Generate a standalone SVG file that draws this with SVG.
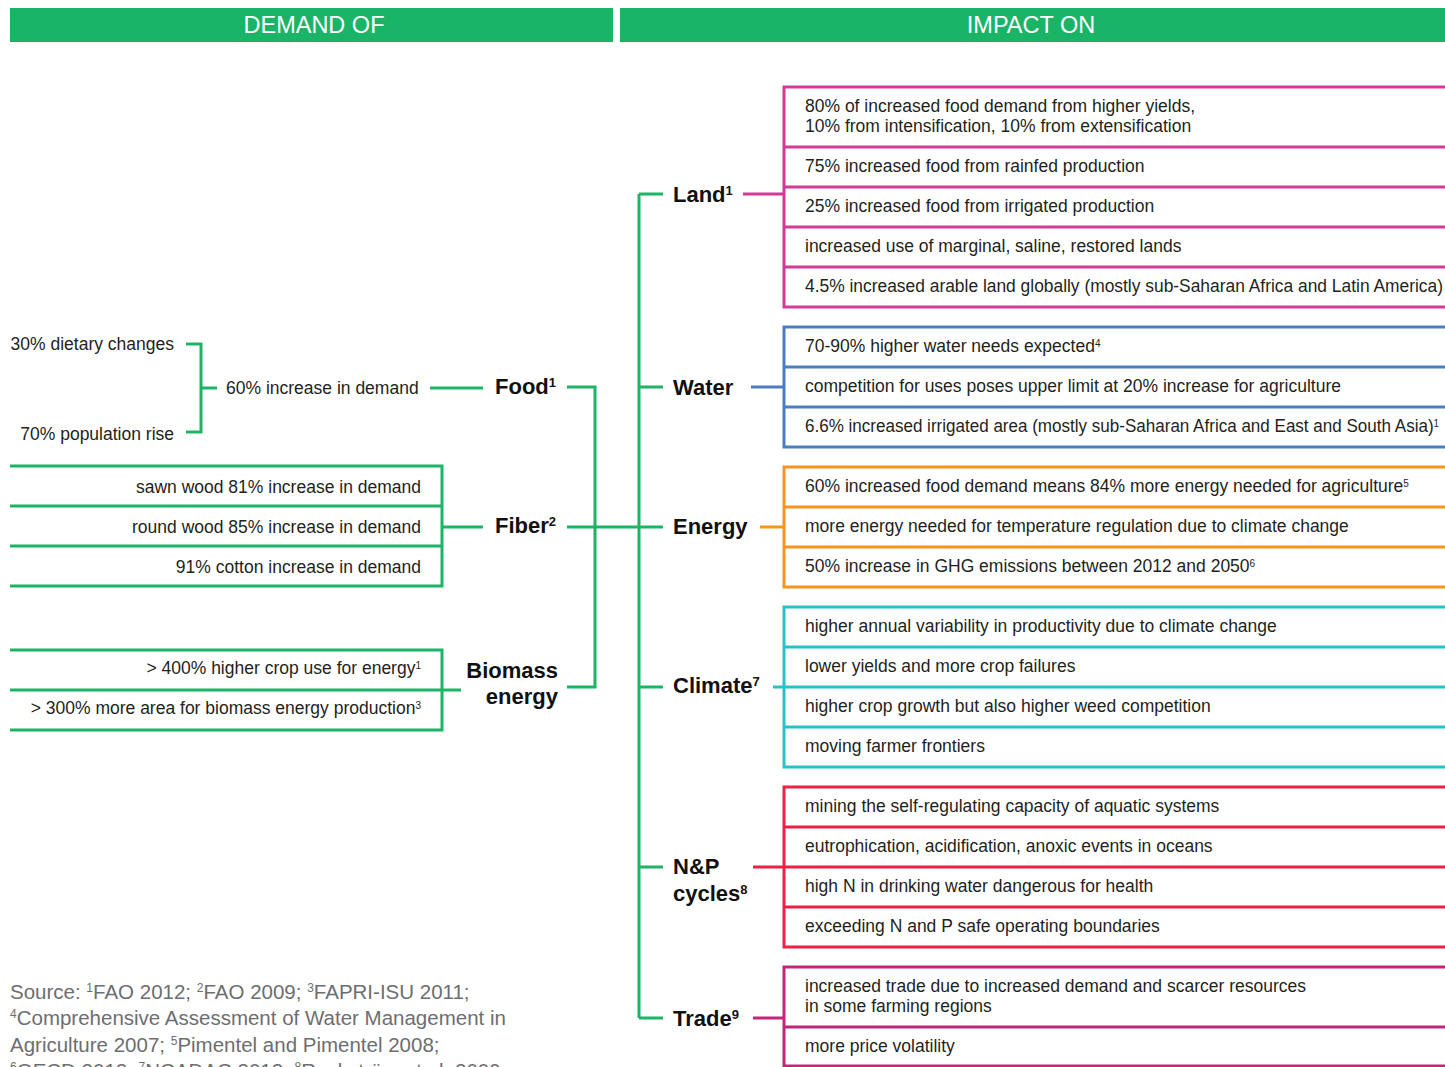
<svg xmlns="http://www.w3.org/2000/svg" width="1445" height="1067" viewBox="0 0 1445 1067">
<style>
text{font-family:"Liberation Sans",Arial,sans-serif;font-size:17.5px;fill:#231f20}
.b{font-weight:bold;font-size:22px;fill:#111}
.h{font-size:23.5px;fill:#fff}
.r{text-anchor:end}
.src{font-size:20.5px;fill:#6d6e71}
.sup{font-size:10px}
.ssup{font-size:12px}
.bsup{font-size:13px}
.ln{fill:none;stroke-width:3}
.green{stroke:#1db466}
.land{stroke:#d43b96}
.water{stroke:#4a7cc1}
.energy{stroke:#f7941d}
.climate{stroke:#2bbfc8}
.np{stroke:#ee2048}
.trade{stroke:#c0267a}
</style>
<g id="header">
<rect x="10" y="8" width="603" height="34" fill="#19b466"/>
<rect x="620" y="8" width="825" height="34" fill="#19b466"/>
<text class="h" x="314" y="33" text-anchor="middle">DEMAND OF</text>
<text class="h" x="1031" y="33" text-anchor="middle">IMPACT ON</text>
</g>
<g id="connectors">
<path class="ln green" d="M186 344H201V432H186M201 388H217M430 388H483M567 387H595V687H567M442 527H483M567 527H663M639 194V1018M639 194H663M639 387H663M639 687H663M639 867H663M639 1018H663"/>
<path class="ln land" d="M743 194H784"/>
<path class="ln water" d="M751 387H784"/>
<path class="ln energy" d="M760 527H784"/>
<path class="ln climate" d="M773 687H784"/>
<path class="ln np" d="M753 867H784"/>
<path class="ln trade" d="M753 1018H784"/>
</g>
<g id="food">
<text class="r" x="174" y="350">30% dietary changes</text>
<text class="r" x="174" y="440">70% population rise</text>
<text x="226" y="394">60% increase in demand</text>
<text class="b" x="495" y="394">Food<tspan class="bsup" baseline-shift="super">1</tspan></text>
</g>
<g id="fiber">
<path class="ln green" d="M10 466H442V586H10M10 506H442M10 546H442"/>
<text class="r" x="421" y="493">sawn wood 81% increase in demand</text>
<text class="r" x="421" y="533">round wood 85% increase in demand</text>
<text class="r" x="421" y="573">91% cotton increase in demand</text>
<text class="b" x="495" y="533">Fiber<tspan class="bsup" baseline-shift="super">2</tspan></text>
</g>
<g id="biomass">
<path class="ln green" d="M10 650H442V730H10M10 690H461"/>
<text class="r" x="421" y="674">&gt; 400% higher crop use for energy<tspan class="sup" baseline-shift="super">1</tspan></text>
<text class="r" x="421" y="714">&gt; 300% more area for biomass energy production<tspan class="sup" baseline-shift="super">3</tspan></text>
<text class="b r" x="558" y="678">Biomass</text>
<text class="b r" x="558" y="704">energy</text>
</g>
<g id="land">
<path class="ln land" d="M1445 87H784V307H1445M784 147H1445M784 187H1445M784 227H1445M784 267H1445"/>
<text class="b" x="673" y="202">Land<tspan class="bsup" baseline-shift="super">1</tspan></text>
<text x="805" y="112">80% of increased food demand from higher yields,</text>
<text x="805" y="132">10% from intensification, 10% from extensification</text>
<text x="805" y="172">75% increased food from rainfed production</text>
<text x="805" y="212">25% increased food from irrigated production</text>
<text x="805" y="252">increased use of marginal, saline, restored lands</text>
<text x="805" y="292" textLength="638" lengthAdjust="spacingAndGlyphs">4.5% increased arable land globally (mostly sub-Saharan Africa and Latin America)</text>
</g>
<g id="water">
<path class="ln water" d="M1445 327H784V447H1445M784 367H1445M784 407H1445"/>
<text class="b" x="673" y="395">Water</text>
<text x="805" y="352">70-90% higher water needs expected<tspan class="sup" baseline-shift="super">4</tspan></text>
<text x="805" y="392">competition for uses poses upper limit at 20% increase for agriculture</text>
<text x="805" y="432" textLength="634" lengthAdjust="spacingAndGlyphs">6.6% increased irrigated area (mostly sub-Saharan Africa and East and South Asia)<tspan class="sup" baseline-shift="super">1</tspan></text>
</g>
<g id="energy">
<path class="ln energy" d="M1445 467H784V587H1445M784 507H1445M784 547H1445"/>
<text class="b" x="673" y="534">Energy</text>
<text x="805" y="492">60% increased food demand means 84% more energy needed for agriculture<tspan class="sup" baseline-shift="super">5</tspan></text>
<text x="805" y="532">more energy needed for temperature regulation due to climate change</text>
<text x="805" y="572">50% increase in GHG emissions between 2012 and 2050<tspan class="sup" baseline-shift="super">6</tspan></text>
</g>
<g id="climate">
<path class="ln climate" d="M1445 607H784V767H1445M784 647H1445M784 687H1445M784 727H1445"/>
<text class="b" x="673" y="693">Climate<tspan class="bsup" baseline-shift="super">7</tspan></text>
<text x="805" y="632">higher annual variability in productivity due to climate change</text>
<text x="805" y="672">lower yields and more crop failures</text>
<text x="805" y="712">higher crop growth but also higher weed competition</text>
<text x="805" y="752">moving farmer frontiers</text>
</g>
<g id="np-cycles">
<path class="ln np" d="M1445 787H784V947H1445M784 827H1445M784 867H1445M784 907H1445"/>
<text class="b" x="673" y="874">N&amp;P</text>
<text class="b" x="673" y="901">cycles<tspan class="bsup" baseline-shift="super">8</tspan></text>
<text x="805" y="812">mining the self-regulating capacity of aquatic systems</text>
<text x="805" y="852">eutrophication, acidification, anoxic events in oceans</text>
<text x="805" y="892">high N in drinking water dangerous for health</text>
<text x="805" y="932">exceeding N and P safe operating boundaries</text>
</g>
<g id="trade">
<path class="ln trade" d="M1445 967H784V1066H1445M784 1027H1445"/>
<text class="b" x="673" y="1026">Trade<tspan class="bsup" baseline-shift="super">9</tspan></text>
<text x="805" y="992">increased trade due to increased demand and scarcer resources</text>
<text x="805" y="1012">in some farming regions</text>
<text x="805" y="1052">more price volatility</text>
</g>
<g id="source">
<text class="src" x="10" y="999">Source: <tspan class="ssup" baseline-shift="super">1</tspan>FAO 2012; <tspan class="ssup" baseline-shift="super">2</tspan>FAO 2009; <tspan class="ssup" baseline-shift="super">3</tspan>FAPRI-ISU 2011;</text>
<text class="src" x="10" y="1025"><tspan class="ssup" baseline-shift="super">4</tspan>Comprehensive Assessment of Water Management in</text>
<text class="src" x="10" y="1052">Agriculture 2007; <tspan class="ssup" baseline-shift="super">5</tspan>Pimentel and Pimentel 2008;</text>
<text class="src" x="10" y="1078"><tspan class="ssup" baseline-shift="super">6</tspan>OECD 2012; <tspan class="ssup" baseline-shift="super">7</tspan>NCADAC 2013; <tspan class="ssup" baseline-shift="super">8</tspan>Rockström et al. 2009</text>
</g>
</svg>
